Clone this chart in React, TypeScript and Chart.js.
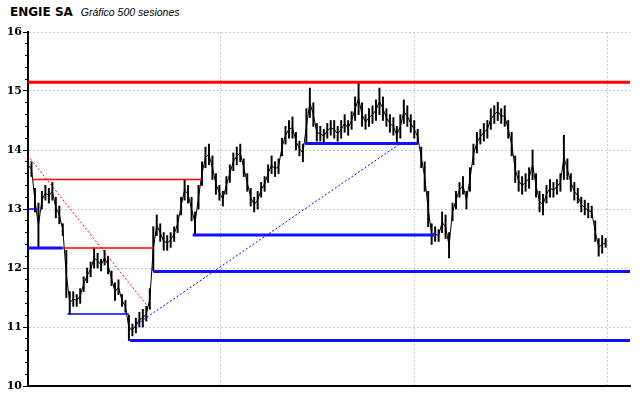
import React, { useEffect, useRef } from 'react';
import { Chart, registerables } from 'chart.js';
Chart.register(...registerables);

const TITLE = 'ENGIE SA';
const SUBTITLE = 'Gráfico 500 sesiones';
const SAMPLE_STEP = 3; // sessions per sample
const X_MAX = 519;
const Y_MIN = 10;
const Y_MAX = 16;
const V_GRID = [166, 333, 500];

const highs = [
  13.85, 13.8, 13.35, 13.1, 13.3, 13.4, 13.35, 13.45, 13.2, 13.05,
  12.75, 12.3, 11.6, 11.6, 11.55, 11.65, 11.85, 12.0, 12.1, 12.34,
  12.25, 12.15, 12.3, 12.2, 11.95, 11.75, 11.8, 11.55, 11.45, 11.2,
  11.05, 11.15, 11.25, 11.3, 11.35, 11.65, 12.7, 12.9, 12.75, 12.6,
  12.55, 12.6, 12.7, 12.9, 13.2, 13.5, 13.4, 13.2, 12.95, 13.4,
  13.8, 14.05, 14.1, 13.9, 13.6, 13.4, 13.3, 13.55, 13.75, 13.95,
  14.05, 14.1, 13.85, 13.6, 13.35, 13.2, 13.3, 13.45, 13.55, 13.75,
  13.9, 13.8, 13.85, 14.2, 14.4, 14.5, 14.56, 14.3, 14.15, 14.1,
  14.7, 15.05, 14.8, 14.45, 14.4, 14.35, 14.45, 14.5, 14.5, 14.4,
  14.5, 14.6, 14.5, 14.65, 14.9, 15.15, 14.8, 14.6, 14.7, 14.75,
  14.85, 15.05, 14.9, 14.7, 14.6, 14.55, 14.4, 14.6, 14.85, 14.75,
  14.6, 14.5, 14.35, 14.05, 13.8, 13.3, 12.75, 12.7, 12.65, 12.95,
  12.9, 12.6, 13.1, 13.3, 13.45, 13.55, 13.3, 13.7, 14.1, 14.3,
  14.35, 14.45, 14.5, 14.7, 14.75, 14.81, 14.7, 14.75, 14.5, 14.3,
  13.9, 13.65, 13.55, 13.6, 13.7, 14.0, 13.6, 13.3, 13.25, 13.4,
  13.5, 13.45, 13.5, 13.6, 14.25, 13.85, 13.6, 13.45, 13.35, 13.2,
  13.15, 13.1, 13.05, 12.8, 12.5, 12.55, 12.5
];

const lows = [
  13.65, 13.55, 12.95, 12.34, 13.0, 13.15, 13.1, 13.15, 12.85, 12.75,
  12.55, 11.5, 11.22, 11.35, 11.35, 11.4, 11.6, 11.75, 11.85, 12.0,
  12.0, 11.95, 12.05, 11.9, 11.7, 11.45, 11.55, 11.35, 11.25, 10.77,
  10.85, 10.9, 11.0, 11.0, 11.1, 11.3, 11.95, 12.55, 12.45, 12.3,
  12.3, 12.35, 12.45, 12.6, 12.9, 13.15, 13.1, 12.8, 12.57, 13.0,
  13.4, 13.7, 13.75, 13.5, 13.25, 13.15, 13.05, 13.25, 13.45, 13.65,
  13.75, 13.8, 13.55, 13.3, 13.05, 12.95, 13.0, 13.2, 13.3, 13.45,
  13.6, 13.55, 13.6, 13.9, 14.1, 14.2, 14.2, 14.0, 13.9, 13.8,
  14.1, 14.55, 14.4, 14.15, 14.15, 14.12, 14.2, 14.25, 14.2, 14.15,
  14.2, 14.3, 14.25, 14.35, 14.5, 14.6, 14.4, 14.35, 14.4, 14.45,
  14.5, 14.6, 14.5, 14.4, 14.3, 14.25, 14.1, 14.2, 14.45, 14.4,
  14.3, 14.2, 14.1, 13.7, 13.3, 12.7, 12.4, 12.45, 12.45, 12.6,
  12.5, 12.17, 12.8, 13.0, 13.2, 13.25, 13.0, 13.3, 13.75, 13.95,
  14.1, 14.15, 14.2, 14.35, 14.45, 14.5, 14.45, 14.4, 14.2, 13.9,
  13.45, 13.3, 13.25, 13.3, 13.35, 13.5, 13.2, 12.95, 12.9, 13.1,
  13.2, 13.2, 13.25, 13.3, 13.5, 13.5, 13.3, 13.15, 13.1, 12.95,
  12.9, 12.85, 12.85, 12.45, 12.2, 12.25, 12.35
];

// Horizontal levels: value, start session, end session
const redThickLevels = [15.15];
const redThickFrom = [0];
const redThickTo = [519];

const redThinLevels = [13.5, 12.34];
const redThinFrom = [4, 30];
const redThinTo = [150, 108];

const blueThickLevels = [12.34, 10.77, 11.94, 12.56, 14.11];
const blueThickFrom = [0, 88, 108, 142, 239];
const blueThickTo = [30, 519, 519, 351, 336];

const blueThinLevels = [13.0, 11.22];
const blueThinFrom = [0, 34];
const blueThinTo = [8, 87];

// Trend lines: [startSession, startValue, endSession, endValue]
const redTrend = [0, 13.9, 102, 11.38];
const blueTrend = [94, 11.05, 321, 14.11];

const isInt = (v: number) => Math.abs(v - Math.round(v)) < 1e-6;

function levelSets(levels: number[], from: number[], to: number[], color: string, width: number) {
  return levels.map((v, i) => ({
    type: 'line' as const,
    data: [{ x: from[i], y: v }, { x: to[i], y: v }],
    borderColor: color,
    backgroundColor: color,
    borderWidth: width,
    pointRadius: 0,
    fill: false,
    order: 0,
  }));
}

function trendSet(t: number[], color: string) {
  return {
    type: 'line' as const,
    data: [{ x: t[0], y: t[1] }, { x: t[2], y: t[3] }],
    borderColor: color,
    backgroundColor: color,
    borderWidth: 1,
    borderDash: [2, 2],
    pointRadius: 0,
    fill: false,
    order: 0,
  };
}

export default function App() {
  const ref = useRef<HTMLCanvasElement | null>(null);

  useEffect(() => {
    if (!ref.current) return;
    const barData = highs.map((h, i) => ({ x: i * SAMPLE_STEP, y: [lows[i], h] }));
    const midData = highs.map((h, i) => ({ x: i * SAMPLE_STEP, y: (h + lows[i]) / 2 }));

    const chart = new Chart(ref.current, {
      type: 'bar',
      data: {
        datasets: [
          ...levelSets(redThickLevels, redThickFrom, redThickTo, '#ff0000', 3),
          ...levelSets(redThinLevels, redThinFrom, redThinTo, '#ff0000', 1.5),
          ...levelSets(blueThickLevels, blueThickFrom, blueThickTo, '#1010ff', 3),
          ...levelSets(blueThinLevels, blueThinFrom, blueThinTo, '#0000ff', 1.5),
          trendSet(redTrend, '#ff0000'),
          trendSet(blueTrend, '#0000ff'),
          {
            type: 'bar',
            data: barData as any,
            backgroundColor: '#000',
            barThickness: 1.3,
            order: 5,
          },
          {
            type: 'line',
            data: midData,
            borderColor: '#000',
            borderWidth: 1,
            pointRadius: 0,
            fill: false,
            order: 5,
          },
        ] as any,
      },
      options: {
        animation: false,
        responsive: true,
        maintainAspectRatio: false,
        layout: { padding: { top: 32, right: 10, bottom: 12, left: 0 } },
        plugins: {
          legend: { display: false },
          tooltip: { enabled: false },
          title: { display: false },
        },
        scales: {
          x: {
            type: 'linear',
            min: 0,
            max: X_MAX,
            offset: false,
            afterBuildTicks: (s: any) => {
              s.ticks = V_GRID.map((v) => ({ value: v }));
            },
            afterFit: (s: any) => {
              s.height = 0;
            },
            ticks: { display: false },
            grid: { color: '#d8c4d8', drawTicks: false, lineWidth: 1, offset: false },
            border: { display: true, color: '#000', width: 2, dash: [2, 2] },
          },
          y: {
            type: 'linear',
            position: 'left',
            weight: 1,
            min: Y_MIN,
            max: Y_MAX,
            afterFit: (s: any) => {
              s.width = 28;
            },
            ticks: {
              stepSize: 0.2,
              autoSkip: false,
              padding: 1,
              color: '#000',
              font: { family: 'DejaVu Serif', weight: 'bold', size: 11 },
              callback: (v: any) => (isInt(Number(v)) ? String(Math.round(Number(v))) : ''),
            },
            grid: {
              lineWidth: 1,
              tickLength: 5,
              color: (c: any) => {
                const v = c.tick ? c.tick.value : 0;
                if (!isInt(v)) return 'rgba(0,0,0,0)';
                return Math.round(v) === Y_MAX ? '#d8c4d8' : '#c4ccc4';
              },
              tickColor: (c: any) => {
                const v = c.tick ? c.tick.value : 0;
                return isInt(v) ? '#000' : 'rgba(0,0,0,0)';
              },
            },
            border: { display: true, color: '#000', width: 2, dash: [2, 2] },
          },
          y2: {
            type: 'linear',
            position: 'left',
            weight: 0,
            min: Y_MIN,
            max: Y_MAX,
            afterFit: (s: any) => {
              s.width = 0;
            },
            ticks: {
              stepSize: 0.2,
              autoSkip: false,
              callback: () => '',
            },
            grid: { drawOnChartArea: false, tickLength: 3, tickColor: '#000', color: '#000', lineWidth: 1 },
            border: { display: false },
          },
        },
      } as any,
    });
    return () => chart.destroy();
  }, []);

  return (
    <div style={{ position: 'absolute', left: 0, top: 0, width: 640, height: 398, background: '#fff' }}>
      <div
        style={{
          position: 'absolute',
          left: 10,
          top: 4,
          whiteSpace: 'nowrap',
          lineHeight: '14px',
          color: '#000',
        }}
      >
        <span style={{ fontFamily: 'DejaVu Sans', fontWeight: 'bold', fontSize: 12 }}>{TITLE}</span>
        <span
          style={{
            fontFamily: 'Liberation Sans',
            fontStyle: 'italic',
            fontSize: 10.5,
            marginLeft: 8,
          }}
        >
          {SUBTITLE}
        </span>
      </div>
      <canvas ref={ref} style={{ position: 'absolute', left: 0, top: 0, width: 640, height: 398 }} />
    </div>
  );
}
